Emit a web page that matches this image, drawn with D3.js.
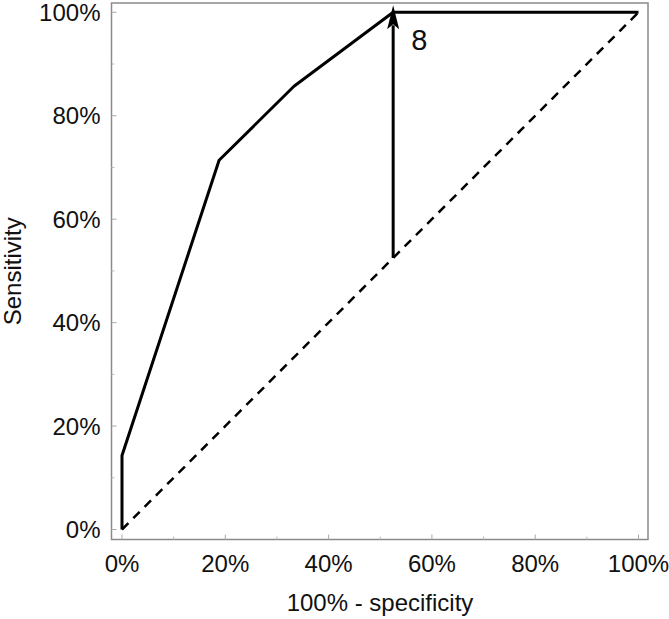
<!DOCTYPE html>
<html>
<head>
<meta charset="utf-8">
<script src="https://cdn.jsdelivr.net/npm/d3@7"></script>
<style>
  body { margin: 0; background: #fff; }
  text { font-family: "Liberation Sans", Arial, sans-serif; fill: #111; }
</style>
</head>
<body>
<div id="chart"></div>
<script>
// ROC curve points (100% - specificity, sensitivity), in percent
const fpr = [0, 0, 18.8, 33.3, 52.5, 100];
const tpr = [0, 14.3, 71.4, 85.7, 100, 100];
// arrow marking cut-off 8
const cutX = 52.5;
const cutFrom = 52.5;
const cutTo = 100;
const cutLabel = "8";
const tickValues = [0, 20, 40, 60, 80, 100];
const minorTicks = [10, 30, 50, 70, 90];

const width = 669;
const height = 619;

const svg = d3.select("#chart")
	.append("svg")
	.attr("width", width)
	.attr("height", height);

// scales
const x = d3.scaleLinear().domain([0, 100]).range([122, 638.5]);
const y = d3.scaleLinear().domain([0, 100]).range([529.5, 12.3]);

// frame
const box = { left: 111.5, right: 648, top: 3, bottom: 539.5 };
svg.append("rect")
	.attr("x", box.left)
	.attr("y", box.top)
	.attr("width", box.right - box.left)
	.attr("height", box.bottom - box.top)
	.attr("fill", "none")
	.attr("stroke", "#8a8a8a")
	.attr("stroke-width", 1.5);

// ticks (inward)
const xAxis = svg.append("g").attr("transform", `translate(0,${box.bottom})`);
xAxis.selectAll(".major").data(tickValues).enter().append("line")
	.attr("x1", d => x(d)).attr("x2", d => x(d))
	.attr("y1", 0).attr("y2", -5)
	.attr("stroke", "#aaa");
xAxis.selectAll(".minor").data(minorTicks).enter().append("line")
	.attr("x1", d => x(d)).attr("x2", d => x(d))
	.attr("y1", 0).attr("y2", -3)
	.attr("stroke", "#bbb");
xAxis.selectAll("text").data(tickValues).enter().append("text")
	.attr("x", d => x(d))
	.attr("y", 32.5)
	.attr("text-anchor", "middle")
	.attr("font-size", 24)
	.text(d => d + "%");

const yAxis = svg.append("g").attr("transform", `translate(${box.left},0)`);
yAxis.selectAll(".major").data(tickValues).enter().append("line")
	.attr("y1", d => y(d)).attr("y2", d => y(d))
	.attr("x1", 0).attr("x2", 5)
	.attr("stroke", "#aaa");
yAxis.selectAll(".minor").data(minorTicks).enter().append("line")
	.attr("y1", d => y(d)).attr("y2", d => y(d))
	.attr("x1", 0).attr("x2", 3)
	.attr("stroke", "#bbb");
yAxis.selectAll("text").data(tickValues).enter().append("text")
	.attr("x", -11)
	.attr("y", d => y(d) + 8.5)
	.attr("text-anchor", "end")
	.attr("font-size", 24)
	.text(d => d + "%");

// axis titles
svg.append("text")
	.attr("x", 380)
	.attr("y", 611)
	.attr("text-anchor", "middle")
	.attr("font-size", 24)
	.text("100% - specificity");

svg.append("text")
	.attr("transform", `translate(21,${(box.top + box.bottom) / 2}) rotate(-90)`)
	.attr("text-anchor", "middle")
	.attr("font-size", 24)
	.text("Sensitivity");

// chance diagonal
svg.append("line")
	.attr("x1", x(0)).attr("y1", y(0))
	.attr("x2", x(100)).attr("y2", y(100))
	.attr("stroke", "#000")
	.attr("stroke-width", 2.5)
	.attr("stroke-dasharray", "9,7");

// ROC curve
const line = d3.line()
	.x(d => x(d[0]))
	.y(d => y(d[1]));

svg.append("path")
	.datum(fpr.map((v, i) => [v, tpr[i]]))
	.attr("d", line)
	.attr("fill", "none")
	.attr("stroke", "#000")
	.attr("stroke-width", 3)
	.attr("stroke-linejoin", "round");

// cut-off arrow
const ax = x(cutX), ay = y(cutTo) - 7;
svg.append("line")
	.attr("x1", ax).attr("y1", y(cutFrom))
	.attr("x2", ax).attr("y2", ay + 20)
	.attr("stroke", "#000")
	.attr("stroke-width", 3);

svg.append("path")
	.attr("d", `M${ax},${ay} L${ax + 6},${ay + 24} L${ax},${ay + 19} L${ax - 6},${ay + 24} Z`)
	.attr("fill", "#000");

svg.append("text")
	.attr("x", ax + 18)
	.attr("y", 50)
	.attr("font-size", 29)
	.text(cutLabel);
</script>
</body>
</html>
